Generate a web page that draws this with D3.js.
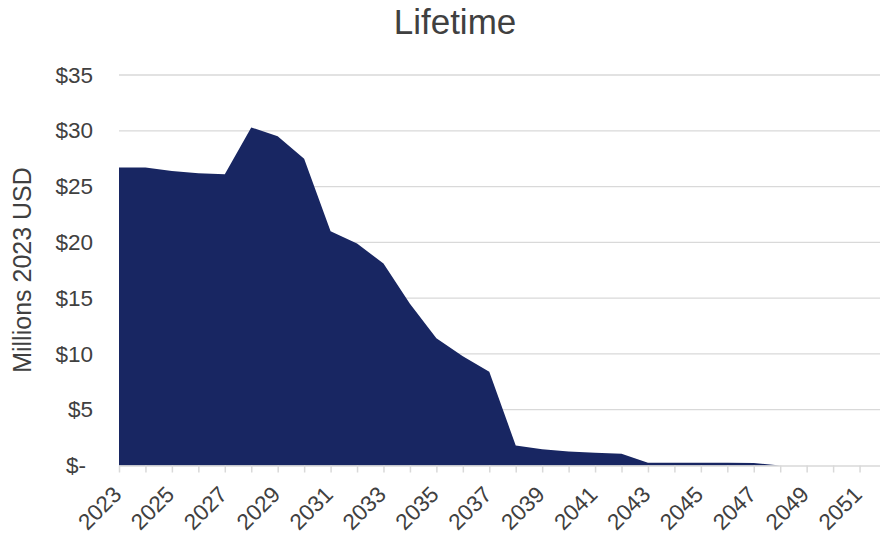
<!DOCTYPE html>
<html>
<head>
<meta charset="utf-8">
<script src="https://cdn.jsdelivr.net/npm/d3@7"></script>
<style>
  html, body { margin: 0; padding: 0; background: #ffffff; }
  svg { display: block; font-family: "Liberation Sans", Arial, sans-serif; }
</style>
</head>
<body>
<svg id="chart" width="880" height="535"></svg>
<script>
// Annual lifetime values, millions of 2023 USD
const years = d3.range(2023, 2053);
const values = [
  26.7, 26.7, 26.4, 26.2, 26.1, 30.3, 29.5, 27.5, 21.0, 19.9,
  18.1, 14.5, 11.4, 9.8, 8.4, 1.8, 1.45, 1.25, 1.15, 1.05,
  0.25, 0.25, 0.25, 0.25, 0.22, 0, 0, 0, 0, 0
];
const yTicks = [0, 5, 10, 15, 20, 25, 30, 35];
const xLabelYears = d3.range(2023, 2052, 2);
const titleText = "Lifetime";
const yAxisTitle = "Millions 2023 USD";

const data = years.map((yr, i) => ({ year: yr, value: values[i] }));

const svg = d3.select("#chart");
const textColor = "#404040";
const gridColor = "#d9d9d9";
const fillColor = "#182662";

const x = d3.scalePoint().domain(years).range([119, 886]);
const y = d3.scaleLinear().domain([0, 35]).range([465.5, 75]);

// Horizontal gridlines
svg.append("g")
  .selectAll("line")
  .data(yTicks.filter(d => d > 0))
  .join("line")
  .attr("x1", x(2023)).attr("x2", 886)
  .attr("y1", d => y(d)).attr("y2", d => y(d))
  .attr("stroke", gridColor).attr("stroke-width", 1.3);

// Filled area
const area = d3.area()
  .x(d => x(d.year))
  .y0(y(0))
  .y1(d => y(d.value));

svg.append("path")
  .datum(data)
  .attr("d", area)
  .attr("fill", fillColor);

// X axis: baseline, ticks at every year, labels every other year
const xAxis = d3.axisBottom(x)
  .tickSizeInner(7)
  .tickSizeOuter(0)
  .tickFormat(d => xLabelYears.includes(d) ? String(d) : "");

const gx = svg.append("g")
  .attr("transform", `translate(0,${y(0)})`)
  .call(xAxis);
gx.select(".domain").attr("stroke", gridColor).attr("stroke-width", 1.5);
gx.selectAll(".tick line").attr("stroke", gridColor).attr("stroke-width", 1.5);
gx.selectAll(".tick text")
  .attr("fill", textColor)
  .style("font-size", "22.5px")
  .attr("text-anchor", "end")
  .attr("dy", null)
  .attr("y", null)
  .attr("transform", "translate(-8,19) rotate(-45)")
  .attr("dominant-baseline", "hanging");

// Y axis labels
const yAxis = d3.axisLeft(y)
  .tickValues(yTicks)
  .tickSize(0)
  .tickPadding(0)
  .tickFormat(d => d === 0 ? "$-" : "$" + d);

const gy = svg.append("g")
  .attr("transform", "translate(93,0)")
  .call(yAxis);
gy.select(".domain").remove();
gy.selectAll(".tick text")
  .attr("fill", textColor)
  .style("font-size", "22.5px");
gy.selectAll(".tick")
  .filter(d => d === 0)
  .select("text")
  .attr("x", -7);

// Y axis title
svg.append("text")
  .attr("transform", "translate(31,270) rotate(-90)")
  .attr("text-anchor", "middle")
  .attr("fill", textColor)
  .style("font-size", "25px")
  .text(yAxisTitle);

// Chart title
svg.append("text")
  .attr("x", 455)
  .attr("y", 34)
  .attr("text-anchor", "middle")
  .attr("fill", textColor)
  .style("font-size", "35px")
  .text(titleText);
</script>
</body>
</html>
